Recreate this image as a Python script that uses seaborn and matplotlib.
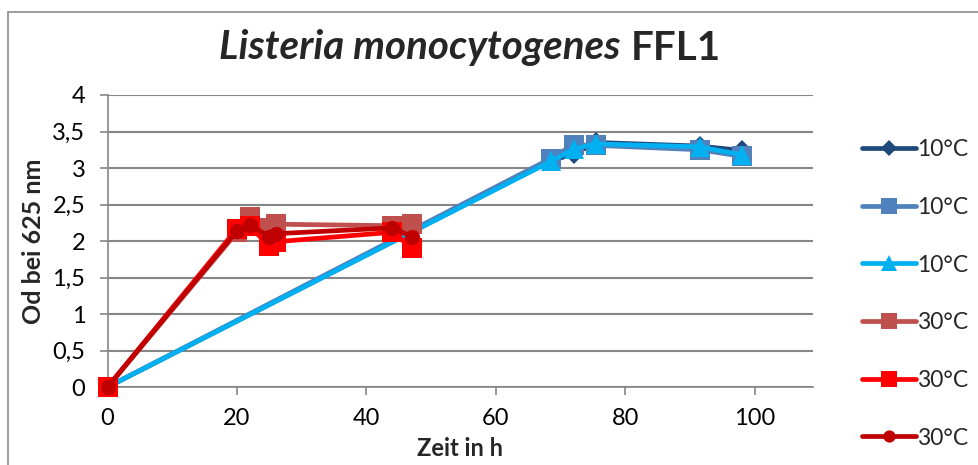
import matplotlib
matplotlib.use("Agg")
import matplotlib.pyplot as plt
from matplotlib.patches import Rectangle
from matplotlib.lines import Line2D
import seaborn as sns
import pandas as pd

# Sampling times (h)
time_10c = [0, 68.5, 72, 75.5, 91.5, 98]
time_30c = [0, 20, 22, 25, 26, 44, 47]

# Optical density at 625 nm, three replicates per temperature
od_10c_a = [0, 3.10, 3.19, 3.35, 3.30, 3.24]
od_10c_b = [0, 3.13, 3.32, 3.31, 3.25, 3.16]
od_10c_c = [0, 3.09, 3.26, 3.33, 3.29, 3.18]
od_30c_a = [0, 2.12, 2.33, 2.18, 2.23, 2.21, 2.23]
od_30c_b = [0, 2.17, 2.20, 1.93, 1.99, 2.12, 1.91]
od_30c_c = [0, 2.14, 2.22, 2.06, 2.10, 2.18, 2.06]

series_labels = ["10°C", "10°C", "10°C", "30°C", "30°C", "30°C"]
x_ticks = [0, 20, 40, 60, 80, 100]
y_ticks = [0, 0.5, 1, 1.5, 2, 2.5, 3, 3.5, 4]
y_tick_labels = ["0", "0,5", "1", "1,5", "2", "2,5", "3", "3,5", "4"]

sns.set_theme(style="white")
plt.rcParams["font.family"] = ["Lato", "DejaVu Sans"]

series = [
    (time_10c, od_10c_a, "#1F497D", "D", 10),
    (time_10c, od_10c_b, "#4F81BD", "s", 14),
    (time_10c, od_10c_c, "#00B0F0", "^", 14),
    (time_30c, od_30c_a, "#C0504D", "s", 14),
    (time_30c, od_30c_b, "#FF0000", "s", 14),
    (time_30c, od_30c_c, "#C00000", "o", 11),
]

W, H = 979, 465
fig = plt.figure(figsize=(W / 100, H / 100), dpi=100)
ax = fig.add_axes([0.1099, 0.1677, 0.7205, 0.628])

grid_grey = "#868686"
handles = []
for i, (t, od, color, marker, ms) in enumerate(series):
    df = pd.DataFrame({"t": t, "od": od})
    sns.lineplot(data=df, x="t", y="od", ax=ax, color=color, marker=marker,
                 markersize=ms, markeredgewidth=0, linewidth=3.4,
                 sort=False, estimator=None, zorder=3 + i, clip_on=False)
    handles.append(Line2D([], [], color=color, marker=marker,
                          markersize=ms * 0.8, markeredgewidth=0,
                          linewidth=3.4, solid_capstyle="round"))

ax.set_xlim(0, 109)
ax.set_ylim(0, 4)
ax.set_xticks(x_ticks)
ax.set_yticks(y_ticks)
ax.set_yticklabels(y_tick_labels)
ax.tick_params(axis="both", labelsize=17, colors=grid_grey,
               labelcolor="black", length=6, width=1.2, direction="out",
               left=True, bottom=True)
ax.tick_params(axis="y", pad=10)
ax.tick_params(axis="x", pad=9)
ax.yaxis.grid(True, color=grid_grey, linewidth=1.5)
ax.xaxis.grid(False)
for side in ["top", "right"]:
    ax.spines[side].set_visible(False)
for side in ["left", "bottom"]:
    ax.spines[side].set_color(grid_grey)
    ax.spines[side].set_linewidth(1.2)
ax.set_axisbelow(True)

ax.set_xlabel("Zeit in h", fontsize=17, fontweight="bold", labelpad=6)
ax.set_ylabel("Od bei 625 nm", fontsize=18, fontweight="bold", labelpad=5)

# Title: italic species name followed by the strain name
fig.canvas.draw()
renderer = fig.canvas.get_renderer()
title_y = 1 - 48 / H
t1 = fig.text(0, title_y, "Listeria monocytogenes", ha="left", va="center",
              fontsize=29, fontweight="bold", style="italic")
t2 = fig.text(0, title_y, "FFL1", ha="left", va="center",
              fontsize=29, fontweight="bold")
w1 = t1.get_window_extent(renderer).width
w2 = t2.get_window_extent(renderer).width
gap = 10
total = w1 + gap + w2
x_start = 470 - total / 2
t1.set_x(x_start / W)
t2.set_x((x_start + w1 + gap) / W)

leg = fig.legend(handles, series_labels, loc="upper left",
                 bbox_to_anchor=(853 / W, 1 - 130 / H), frameon=False,
                 fontsize=16.5, handlelength=2.35, handletextpad=0.05,
                 labelspacing=1.6, borderaxespad=0)

# chart-area frame
fig.patches.append(Rectangle((8 / W, -0.1), 1.2, 1 - 12 / H + 0.1,
                             transform=fig.transFigure, fill=False,
                             edgecolor="#8C8C8C", linewidth=1.2))

fig.savefig("out.png", dpi=100, facecolor="white")
